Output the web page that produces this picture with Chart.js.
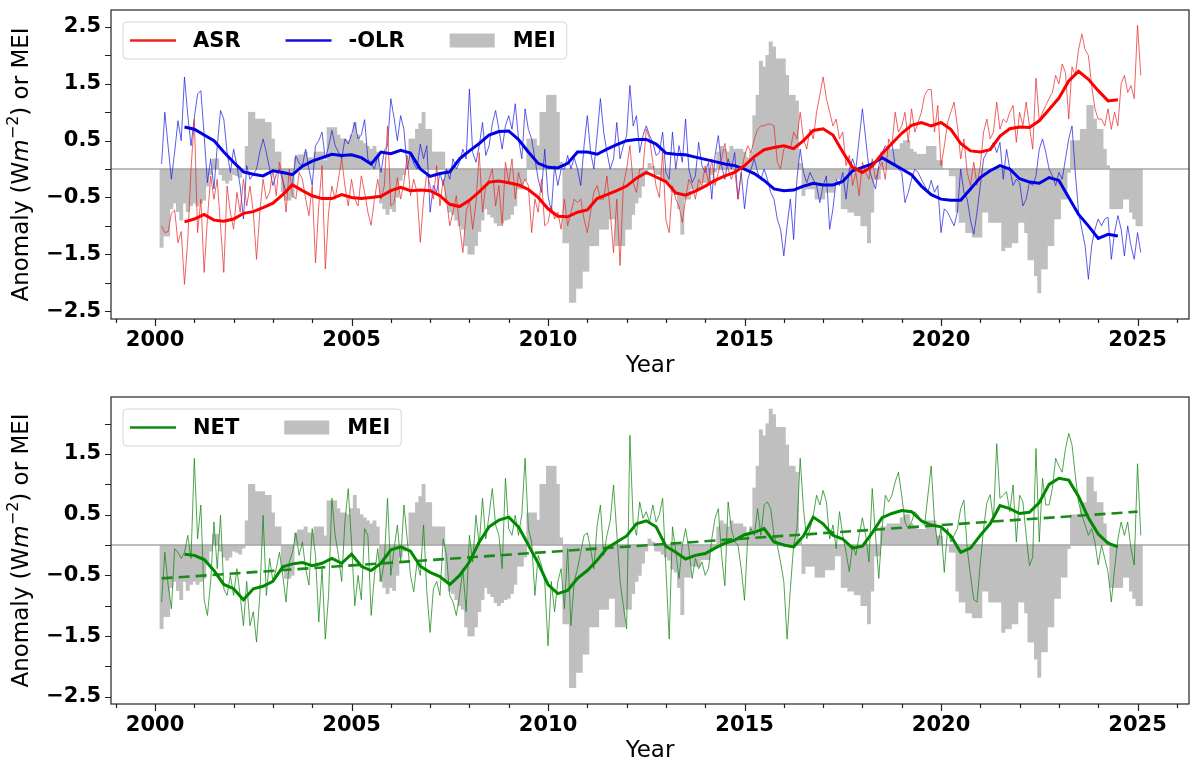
<!DOCTYPE html>
<html>
<head>
<meta charset="utf-8">
<script src="https://cdn.jsdelivr.net/npm/chart.js@4.4.0/dist/chart.umd.min.js"></script>
<style>
  html, body { margin: 0; padding: 0; background: #fff; }
  .panel { position: absolute; left: 0; }
</style>
</head>
<body>
<div class="panel" style="top:0"><canvas id="c1" width="1190" height="390"></canvas></div>
<div class="panel" style="top:390px"><canvas id="c2" width="1190" height="373"></canvas></div>
<script>
// monthly anomalies, one row per year, Mar 2000 .. Feb 2025
var asr = [
  [-1.0, -1.12, -1.1, -0.78, -0.72, -1.3, -1.1, -2.03, -1.25, 0.0],
  [0.88, -1.12, -0.53, -1.82, -0.88, -0.12, -0.53, -0.18, -1.0, -1.82, -0.3, -0.76],
  [-1.06, -0.41, -0.76, -0.18, -0.65, -0.3, -0.76, -1.59, -0.76, -0.18, -0.53, -0.41],
  [0.0, -0.47, 0.12, -0.18, -0.76, 0.0, -0.47, -0.53, -0.06, -0.18, -0.53, -0.82],
  [-0.3, -1.65, -0.65, 0.06, -1.76, -0.76, -0.3, -0.53, -0.18, 0.18, -0.3, -0.65],
  [-0.18, -0.53, -0.65, -0.12, -0.41, -0.76, -0.99, -0.53, -0.18, -0.53, -0.3, 0.76],
  [-0.65, -0.59, -0.15, -0.53, -0.24, 0.24, -0.47, -0.18, -0.41, -1.29, -0.53, -0.06],
  [-0.29, -0.53, 0.06, -0.65, -0.18, -0.53, -1.0, -0.76, -0.47, -1.0, -1.47, -0.76],
  [-0.53, -1.06, -0.59, 0.29, -0.76, -0.29, -0.18, 0.0, -0.65, -0.29, -1.0, 0.12],
  [-0.24, 0.18, -0.53, -0.06, -0.29, -0.18, -0.29, -1.12, -0.53, -0.76, -0.18, -1.0],
  [-0.94, -0.65, -0.88, -0.76, -1.06, -0.53, -1.0, -0.76, -0.53, -0.59, -0.53, -0.88],
  [-1.12, -0.76, -0.41, -0.29, -0.53, -0.53, -0.12, -0.76, -1.47, -0.53, -1.7, -0.29],
  [0.0, 0.41, -0.24, -0.41, 0.0, 0.0, 0.7, 0.53, 0.12, -0.3, -0.5, 0.3],
  [-0.9, -1.12, -0.3, -0.53, -0.65, -0.94, -0.53, -0.18, -0.29, -0.53, -0.18, -0.29],
  [0.06, -0.24, 0.18, -0.29, -0.06, 0.18, 0.45, 0.0, -0.18, 0.0, -0.53, -0.06],
  [0.24, 0.41, 0.29, 0.53, 0.7, 0.76, 0.76, 0.79, 0.79, 0.76, 0.12, 0.0],
  [0.35, 0.41, 0.35, 0.65, 0.53, 1.0, 0.53, 0.35, 0.7, 0.53, 1.0, 1.3],
  [1.62, 1.24, 1.0, 0.76, 0.88, 0.53, 0.65, 0.06, 0.24, -0.29, -0.06, -0.47],
  [0.12, -0.06, -0.18, 0.18, -0.18, 0.0, 0.12, -0.18, 0.53, 0.41, 1.0, 0.65],
  [0.76, 1.0, 0.47, 1.06, 0.65, 0.82, 1.0, 1.3, 1.4, 1.4, 0.65, 1.12],
  [0.06, 0.4, 0.82, 1.0, 1.18, 0.76, 0.18, 0.53, -0.06, -0.29, 0.12, -0.29],
  [0.06, 0.65, 0.88, 0.53, 0.65, 1.18, 0.7, 0.88, 0.82, 1.0, 1.12, 0.47],
  [1.0, 0.76, 1.18, 0.76, 0.35, 1.6, 0.85, 1.0, 1.12, 1.24, 1.35, 1.65],
  [1.5, 1.85, 1.7, 0.88, 1.8, 1.65, 2.1, 2.38, 2.1, 2.0, 1.47, 1.06],
  [0.88, 0.88, 0.76, 1.06, 0.7, 1.0, 0.76, 1.5, 1.65, 1.35, 1.47, 1.24],
  [2.53, 1.65]
].flat();

var olr = [
  [0.09, 1.0, 0.4, -0.18, 0.3, 0.85, 0.5, 1.62, 0.95, 0.41],
  [0.9, 1.32, 1.38, 0.6, -0.24, 0.18, -0.35, 0.4, 1.03, 0.88, 0.3, -0.06],
  [0.35, 0.06, -0.3, -0.88, 0.06, -0.18, -0.1, 0.0, 0.3, 0.53, 0.29, 0.0],
  [-0.29, -0.1, 0.0, -0.2, -0.41, -0.3, -0.24, 0.24, 0.1, 0.06, 0.35, 0.0],
  [-0.29, 0.41, 0.5, 0.65, 0.18, 0.4, 0.68, 0.41, 0.3, 0.18, 0.53, 0.44],
  [0.6, 0.82, 0.53, 0.6, 0.87, 0.18, 0.1, 0.0, 0.24, -0.06, 0.32, 0.41],
  [1.24, 0.9, 0.5, 0.94, 0.7, 0.0, 0.3, 0.1, 0.0, 0.44, 0.18, 0.41],
  [-0.76, -0.29, -0.41, -0.06, -0.29, 0.0, -0.18, 0.18, 0.0, 0.12, 0.35, 0.18],
  [1.41, 0.29, 0.12, 0.41, 0.82, 0.24, 0.41, 0.8, 1.03, 0.7, 0.35, 0.76],
  [0.94, 0.7, 1.15, 0.53, 0.18, 1.06, 0.7, 0.53, 0.18, -0.18, -0.41, 0.35],
  [-0.47, -0.76, 0.06, -0.29, 0.0, 0.0, 0.24, 0.0, 0.2, 0.0, -0.29, 0.41],
  [0.94, 0.3, 0.0, 0.6, 1.24, 0.65, 0.29, 0.0, 0.18, 0.82, 0.18, 0.41],
  [0.59, 1.47, 0.76, 0.94, 0.29, 0.59, 0.76, 0.59, 0.47, 0.24, 0.29, 0.65],
  [-0.06, -0.18, 0.65, 0.0, 0.41, 0.12, 0.88, 0.0, -0.24, -0.12, 0.47, 0.06],
  [-0.06, 0.12, -0.53, 0.24, 0.59, 0.06, -0.18, 0.18, 0.0, 0.29, -0.53, -0.06],
  [-0.7, -0.18, 0.0, 0.18, -0.06, -0.18, 0.0, -0.18, -0.41, -0.53, -0.88, -1.06],
  [-1.53, -1.0, -0.53, -1.24, -0.18, 0.35, -0.06, -0.24, -0.06, -0.18, -0.29, -0.59],
  [-0.29, -0.12, -1.06, -0.7, -0.18, -0.29, -0.06, -0.53, 0.0, 0.18, 0.0, 0.53],
  [1.06, 0.53, 0.0, -0.18, -0.35, 0.06, 0.29, 0.41, 0.35, 0.47, 0.06, 0.0],
  [-0.06, -0.59, -0.41, -0.18, 0.0, -0.06, -0.18, -0.29, -0.41, -0.2, -0.41, -0.29],
  [-1.12, -0.7, -0.76, -0.88, -1.0, -0.76, 0.0, -0.41, -0.53, -0.9, -1.15, -0.76],
  [-0.29, 0.18, 0.29, 0.35, 0.47, 0.29, 0.47, -0.18, 0.35, 0.0, -0.29, -0.18],
  [-0.24, -0.65, -0.53, -0.24, -0.29, -0.12, 0.35, 0.53, 0.29, 0.0, -0.12, -0.29],
  [-0.06, -0.18, 0.18, 0.53, 0.76, -0.06, -0.76, -1.06, -1.35, -1.94, -1.35, -1.06],
  [-0.88, -1.0, -0.88, -0.85, -1.59, -1.12, -0.82, -1.06, -1.53, -1.0, -1.35, -1.59],
  [-1.12, -1.47]
].flat();

var net = [
  [-0.94, -0.12, -0.66, -1.05, -0.06, -0.12, -0.22, -0.12, 0.16, -0.22],
  [1.43, 0.1, 0.66, -0.9, -1.16, -0.6, 0.38, -0.39, 0.49, -0.72, -0.83, -0.5],
  [-0.83, -0.39, -0.83, -1.33, -0.6, -1.33, -1.1, -1.6, -0.83, 0.49, -0.83, -0.22],
  [-0.6, -0.39, -0.12, -0.5, -0.94, -0.28, -0.12, 0.2, -0.17, 0.05, -0.39, -0.66],
  [0.27, -0.17, -1.27, -0.39, -1.55, -0.83, 0.77, 0.16, -0.17, -0.6, 0.4, 0.93],
  [0.05, -1.0, -0.5, -0.9, 0.27, 0.16, -1.16, -0.5, -0.06, -0.6, -0.28, 0.77],
  [-0.5, -0.06, 0.33, -0.28, 0.66, 0.1, -0.5, -0.77, -0.28, -0.5, 0.33, -0.77],
  [-1.44, -0.72, -0.6, -0.83, 0.1, -0.17, -0.83, -0.94, -1.16, -0.83, -0.39, -1.1],
  [0.16, -0.28, 0.49, 0.0, 0.77, 0.1, 0.49, 0.93, 0.33, 0.16, -0.39, 1.1],
  [0.27, 0.16, 0.49, 0.16, 0.5, 1.43, 0.27, 0.05, -0.83, -0.17, -0.33, -0.6],
  [-1.66, -0.6, -1.1, -0.6, -0.39, -1.05, -0.06, -1.33, -0.6, -0.39, -0.12, 0.16],
  [0.2, -0.06, -0.39, 0.33, 0.66, -0.17, 0.16, 0.4, 0.99, 0.2, -0.6, -1.0],
  [-1.38, 1.81, 0.38, 0.16, 0.71, 0.44, 0.55, 0.38, 0.66, 0.38, 0.5, 0.77],
  [-0.39, -1.55, 0.3, -0.1, -0.55, 0.0, 0.27, -0.06, -0.55, -0.22, -0.39, -0.28],
  [-0.5, -0.39, 0.1, 0.44, 0.6, -0.17, -0.67, 0.71, 0.27, 0.05, 0.0, -0.39],
  [-0.91, 0.16, 0.27, 0.16, 0.6, 0.16, 0.66, 0.71, 0.6, 0.16, 0.0, -0.28],
  [-0.6, -1.55, -0.72, 0.0, 0.27, 1.43, 0.6, 0.1, 0.27, 0.49, 0.82, 0.66],
  [0.9, 0.71, 0.1, 0.33, -0.06, 0.55, 0.16, -0.12, -0.44, 0.0, -0.17, 0.16],
  [0.45, 0.16, -0.28, 0.93, 0.16, -0.55, 0.27, 0.82, 0.71, 0.82, 1.04, 1.2],
  [0.82, 0.38, 0.27, 0.38, 0.55, 0.49, 0.38, 0.33, 0.82, 1.3, 0.4, 0.0],
  [0.27, -0.45, 0.27, 0.05, 0.16, 0.27, 0.6, 0.74, -0.06, -0.5, -0.9, -0.94],
  [-0.3, 0.27, 0.7, 0.83, 0.4, 1.67, 0.77, 0.82, 0.88, 0.55, 0.99, 0.05],
  [0.82, 0.71, 0.16, -0.34, -0.2, 1.59, 0.05, 1.1, 0.66, 0.66, 0.93, 1.43],
  [1.3, 1.2, 1.59, 1.84, 1.65, 1.15, 0.71, 0.49, 0.33, 0.16, 0.27, 0.05],
  [-0.33, 0.0, -0.22, -0.45, -0.94, -0.39, 0.1, 0.38, 0.16, 0.38, -0.06, -0.33],
  [1.34, 0.16]
].flat();

var mei = [
  [-1.38, -1.18, -1.18, -0.7, -0.6, -0.75, -0.9, -0.6, -0.75, -0.65],
  [-0.6, -0.65, -0.6, -0.55, -0.3, -0.1, 0.18, 0.18, -0.1, -0.2, -0.25, -0.2],
  [-0.1, -0.12, -0.15, -0.05, 0.4, 1.0, 1.0, 0.88, 0.88, 0.88, 0.82, 0.82],
  [0.53, 0.3, 0.3, -0.4, -0.55, -0.55, -0.5, 0.2, 0.25, 0.25, 0.3, 0.2],
  [0.2, 0.3, 0.3, 0.3, 0.15, 0.73, 0.73, 0.73, 0.6, 0.53, 0.53, 0.5],
  [0.6, 0.82, 0.6, 0.5, 0.45, 0.4, 0.35, 0.4, 0.3, -0.6, -0.7, -0.8],
  [-0.7, -0.75, -0.5, -0.2, -0.1, 0.0, 0.53, 0.53, 0.7, 0.8, 1.0, 0.7],
  [0.7, 0.3, 0.3, 0.3, 0.3, -0.6, -0.76, -0.8, -0.9, -1.0, -1.06, -1.35],
  [-1.5, -1.5, -1.35, -1.1, -0.9, -0.7, -0.8, -0.85, -0.95, -1.0, -0.95, -0.9],
  [-0.88, -0.8, -0.65, -0.35, -0.35, -0.2, 0.53, 0.53, 0.53, 0.41, 1.0, 1.0],
  [1.3, 1.3, 1.3, 1.0, 0.12, -1.3, -1.3, -2.35, -2.35, -2.1, -2.1, -1.8],
  [-1.8, -1.35, -1.35, -1.35, -1.06, -1.06, -1.06, -0.88, -0.88, -1.35, -1.35, -1.35],
  [-1.06, -1.06, -0.8, -0.6, -0.5, -0.3, -0.1, 0.1, 0.05, -0.1, -0.1, -0.15],
  [-0.2, -0.25, -0.4, -0.45, -0.7, -1.15, -0.53, -0.53, -0.35, -0.35, -0.35, -0.24],
  [-0.24, -0.24, -0.1, -0.05, 0.3, 0.4, 0.35, 0.3, 0.4, 0.35, 0.35, 0.35],
  [0.3, 0.2, 0.3, 0.94, 1.3, 1.9, 1.8, 2.0, 2.24, 2.15, 1.94, 1.94],
  [1.94, 1.65, 1.3, 1.3, 1.2, 0.1, -0.47, -0.35, -0.35, -0.35, -0.53, -0.53],
  [-0.53, -0.41, -0.41, -0.41, -0.18, -0.18, -0.7, -0.7, -0.76, -0.76, -0.82, -0.82],
  [-1.0, -1.0, -1.3, -0.76, -0.18, -0.18, 0.3, 0.3, 0.35, 0.35, 0.35, 0.35],
  [0.45, 0.5, 0.5, 0.35, 0.3, 0.26, 0.26, 0.26, 0.4, 0.4, 0.4, 0.15],
  [0.15, 0.0, 0.0, -0.12, -0.12, -0.76, -0.94, -0.94, -1.12, -1.12, -1.2, -1.2],
  [-1.2, -0.76, -0.76, -0.94, -0.94, -0.94, -0.94, -1.44, -1.38, -1.38, -1.3, -1.3],
  [-0.94, -0.94, -1.12, -1.6, -1.6, -1.88, -2.18, -1.76, -1.76, -1.35, -1.35, -0.88],
  [-0.88, -0.53, -0.53, -0.06, 0.5, 0.5, 0.5, 0.7, 0.7, 1.12, 1.12, 0.88],
  [0.7, 0.7, 0.35, 0.06, -0.7, -0.7, -0.7, -0.7, -0.53, -0.53, -0.76, -0.88],
  [-1.0, -1.0]
].flat();

// 12-month running means, read every quarter from 2000.75 to 2024.5
var asrMean = [
  [-0.93],
  [-0.88, -0.80, -0.90, -0.92], [-0.88, -0.78, -0.75, -0.68], [-0.60, -0.45, -0.28, -0.38],
  [-0.47, -0.52, -0.52, -0.45], [-0.50, -0.52, -0.50, -0.48], [-0.38, -0.32, -0.38, -0.37],
  [-0.38, -0.47, -0.62, -0.66], [-0.55, -0.40, -0.23, -0.21], [-0.24, -0.28, -0.36, -0.50],
  [-0.70, -0.83, -0.84, -0.76], [-0.72, -0.52, -0.45, -0.38], [-0.30, -0.16, -0.06, -0.14],
  [-0.22, -0.42, -0.46, -0.39], [-0.30, -0.20, -0.12, -0.06], [0.06, 0.22, 0.34, 0.38],
  [0.41, 0.36, 0.50, 0.68], [0.71, 0.60, 0.30, 0.03], [-0.06, 0.05, 0.27, 0.45],
  [0.63, 0.77, 0.82, 0.76], [0.82, 0.70, 0.45, 0.32], [0.30, 0.34, 0.58, 0.71],
  [0.74, 0.73, 0.85, 1.05], [1.25, 1.55, 1.72, 1.58], [1.38, 1.20, 1.22]
].flat();

var olrMean = [
  [0.74],
  [0.70, 0.60, 0.50, 0.30], [0.12, -0.05, -0.09, -0.12], [-0.03, -0.06, -0.10, 0.05],
  [0.14, 0.20, 0.26, 0.24], [0.25, 0.20, 0.09, 0.30], [0.27, 0.33, 0.28, 0.00],
  [-0.13, -0.08, -0.05, 0.18], [0.32, 0.45, 0.60, 0.66], [0.67, 0.52, 0.30, 0.10],
  [0.03, 0.02, 0.10, 0.30], [0.30, 0.26, 0.35, 0.43], [0.50, 0.52, 0.52, 0.44],
  [0.28, 0.26, 0.25, 0.21], [0.17, 0.13, 0.09, 0.06], [0.00, -0.08, -0.20, -0.35],
  [-0.38, -0.37, -0.30, -0.25], [-0.28, -0.28, -0.22, -0.03], [0.03, 0.09, 0.20, 0.10],
  [0.00, -0.10, -0.30, -0.45], [-0.53, -0.55, -0.55, -0.35], [-0.15, -0.03, 0.06, 0.00],
  [-0.17, -0.23, -0.25, -0.15], [-0.20, -0.50, -0.80, -1.00], [-1.22, -1.15, -1.18]
].flat();

var netMean = [
  [-0.15],
  [-0.17, -0.24, -0.42, -0.65], [-0.72, -0.90, -0.72, -0.68], [-0.60, -0.36, -0.31, -0.29],
  [-0.34, -0.30, -0.22, -0.30], [-0.15, -0.35, -0.42, -0.30], [-0.08, -0.03, -0.10, -0.35],
  [-0.45, -0.52, -0.65, -0.50], [-0.28, 0.05, 0.30, 0.41], [0.46, 0.30, 0.00, -0.30],
  [-0.65, -0.80, -0.75, -0.55], [-0.42, -0.25, -0.05, 0.05], [0.15, 0.35, 0.40, 0.30],
  [-0.02, -0.12, -0.23, -0.17], [-0.14, -0.05, 0.03, 0.08], [0.17, 0.21, 0.27, 0.05],
  [0.00, -0.03, 0.15, 0.46], [0.35, 0.16, 0.10, -0.05], [-0.02, 0.20, 0.45, 0.52],
  [0.57, 0.55, 0.40, 0.33], [0.30, 0.15, -0.12, -0.05], [0.16, 0.35, 0.65, 0.60],
  [0.52, 0.54, 0.70, 1.00], [1.10, 1.07, 0.80, 0.45], [0.18, 0.03, -0.03]
].flat();

// linear trend of NET (end points)
var trendYears = [2000.17, 2025.0];
var netTrend = [-0.55, 0.55];

var months = asr.map(function(_, i) { return 2000 + (i + 2) / 12; });
var meanYears = asrMean.map(function(_, i) { return 2000.75 + i * 0.25; });

function pts(xs, ys) {
  return ys.map(function(y, i) { return { x: xs[i], y: y }; });
}

var FONT = '"DejaVu Sans", sans-serif';
var MEI_GREY = '#bfbfbf';

function fmt(v) {
  return (v < 0 ? '\u2212' : '') + Math.abs(v).toFixed(1);
}

function decor(items) {
  return {
    id: 'decor',
    afterDatasetDraw: function(chart, args) {
      if (args.index !== 0) return;
      var ctx = chart.ctx, a = chart.chartArea, y0 = chart.scales.y.getPixelForValue(0);
      ctx.save();
      ctx.strokeStyle = '#a9a9a9';
      ctx.lineWidth = 1.5;
      ctx.beginPath(); ctx.moveTo(a.left, y0); ctx.lineTo(a.right, y0); ctx.stroke();
      ctx.restore();
    },
    afterDraw: function(chart) {
      var ctx = chart.ctx, a = chart.chartArea, xs = chart.scales.x, ys = chart.scales.y;
      ctx.save();
      // frame + tick marks
      ctx.strokeStyle = '#222';
      ctx.lineWidth = 1.2;
      ctx.strokeRect(a.left, a.top, a.right - a.left, a.bottom - a.top);
      ctx.beginPath();
      for (var yr = Math.ceil(xs.min); yr <= xs.max; yr++) {
        var px = Math.round(xs.getPixelForValue(yr)) + 0.5;
        ctx.moveTo(px, a.bottom); ctx.lineTo(px, a.bottom + (yr % 5 === 0 ? 7 : 4));
      }
      for (var v = Math.ceil(ys.min * 2) / 2; v <= ys.max; v += 0.5) {
        var py = Math.round(ys.getPixelForValue(v)) + 0.5;
        ctx.moveTo(a.left - 6, py); ctx.lineTo(a.left, py);
      }
      ctx.stroke();

      // legend
      ctx.font = 'bold 21px ' + FONT;
      var bx = a.left + 12, by = a.top + 12, bh = 37;
      var x = a.left + 19, cy = by + bh / 2;
      items.forEach(function(it) {
        if (it.patch) {
          ctx.fillStyle = it.color;
          ctx.fillRect(x, cy - 7, 45, 14);
        } else {
          ctx.strokeStyle = it.color; ctx.lineWidth = 2.5;
          ctx.beginPath(); ctx.moveTo(x, cy); ctx.lineTo(x + 46, cy); ctx.stroke();
        }
        it.tx = x + 63;
        x = it.tx + ctx.measureText(it.label).width + 45;
      });
      var bw = x - 45 + 11 - bx;
      ctx.beginPath();
      ctx.roundRect(bx, by, bw, bh, 4);
      ctx.strokeStyle = '#d4d4d4'; ctx.lineWidth = 1;
      ctx.stroke();
      ctx.fillStyle = '#000';
      ctx.textBaseline = 'middle';
      items.forEach(function(it) { ctx.fillText(it.label, it.tx, cy + 1); });

      // axis titles
      ctx.font = '23px ' + FONT;
      ctx.textAlign = 'center';
      ctx.fillText('Year', (a.left + a.right) / 2, a.bottom + 47);
      var parts = [
        { t: 'Anomaly (W', f: '23px ' + FONT, dy: 0 },
        { t: 'm', f: 'italic 23px ' + FONT, dy: 0 },
        { t: '\u22122', f: '16px ' + FONT, dy: -8 },
        { t: ') or MEI', f: '23px ' + FONT, dy: 0 }
      ];
      var total = 0;
      parts.forEach(function(p) { ctx.font = p.f; p.w = ctx.measureText(p.t).width; total += p.w; });
      ctx.translate(22, (a.top + a.bottom) / 2);
      ctx.rotate(-Math.PI / 2);
      ctx.textAlign = 'left';
      var tx = -total / 2;
      parts.forEach(function(p) { ctx.font = p.f; ctx.fillText(p.t, tx, p.dy); tx += p.w; });
      ctx.restore();
    }
  };
}

function axes(ymin, ymax, xHeight) {
  return {
    x: {
      type: 'linear', min: 1998.88, max: 2026.31, offset: false,
      afterFit: function(s) { s.height = xHeight; s.paddingLeft = 0; s.paddingRight = 0; },
      grid: { display: false, drawTicks: false, offset: false },
      border: { display: false },
      ticks: {
        stepSize: 5, includeBounds: false, autoSkip: false, maxRotation: 0, padding: 9,
        color: '#000', font: { family: FONT, size: 21, weight: 'bold' },
        callback: function(v) { return String(v); }
      }
    },
    y: {
      min: ymin, max: ymax,
      afterFit: function(s) { s.width = 111; s.paddingTop = 0; s.paddingBottom = 0; },
      grid: { display: false, drawTicks: false },
      border: { display: false },
      ticks: {
        stepSize: 0.5, includeBounds: false, padding: 10,
        color: '#000', font: { family: FONT, size: 21, weight: 'bold' },
        callback: function(v) { return Math.abs(Math.round(v * 2)) % 2 === 1 ? fmt(v) : ''; }
      }
    }
  };
}

function meiSet() {
  return {
    type: 'bar', data: pts(months, mei), backgroundColor: MEI_GREY, borderWidth: 0,
    barPercentage: 1, categoryPercentage: 1, grouped: false, order: 10
  };
}

function line(xs, ys, color, width, order, extra) {
  var ds = {
    type: 'line', data: pts(xs, ys), borderColor: color, borderWidth: width,
    pointRadius: 0, tension: 0, fill: false, order: order
  };
  for (var k in extra || {}) ds[k] = extra[k];
  return ds;
}

var common = {
  animation: false, responsive: false, parsing: false, normalized: true,
  plugins: { legend: { display: false }, tooltip: { enabled: false } },
  events: []
};

new Chart(document.getElementById('c1'), {
  type: 'line',
  data: {
    datasets: [
      meiSet(),
      line(months, asr, 'rgba(232,40,40,0.72)', 1, 5),
      line(months, olr, 'rgba(30,30,225,0.72)', 1, 5),
      line(meanYears, asrMean, '#ff0000', 3, 1),
      line(meanYears, olrMean, '#0000e6', 3, 1)
    ]
  },
  options: Object.assign({}, common, {
    layout: { padding: { top: 10, right: 1, left: 0, bottom: 0 } },
    scales: axes(-2.64, 2.8, 71)
  }),
  plugins: [decor([
    { label: 'ASR', color: '#ee2222' },
    { label: '-OLR', color: '#1111dd' },
    { label: 'MEI', color: MEI_GREY, patch: true }
  ])]
});

new Chart(document.getElementById('c2'), {
  type: 'line',
  data: {
    datasets: [
      meiSet(),
      line(months, net, 'rgba(20,135,20,0.75)', 1, 5),
      line(meanYears, netMean, '#008a00', 3, 1),
      line(trendYears, netTrend, '#1a8a1a', 2.6, 2, { borderDash: [11, 6] })
    ]
  },
  options: Object.assign({}, common, {
    layout: { padding: { top: 7, right: 1, left: 0, bottom: 0 } },
    scales: axes(-2.62, 2.44, 59)
  }),
  plugins: [decor([
    { label: 'NET', color: '#118811' },
    { label: 'MEI', color: MEI_GREY, patch: true }
  ])]
});
</script>
</body>
</html>
